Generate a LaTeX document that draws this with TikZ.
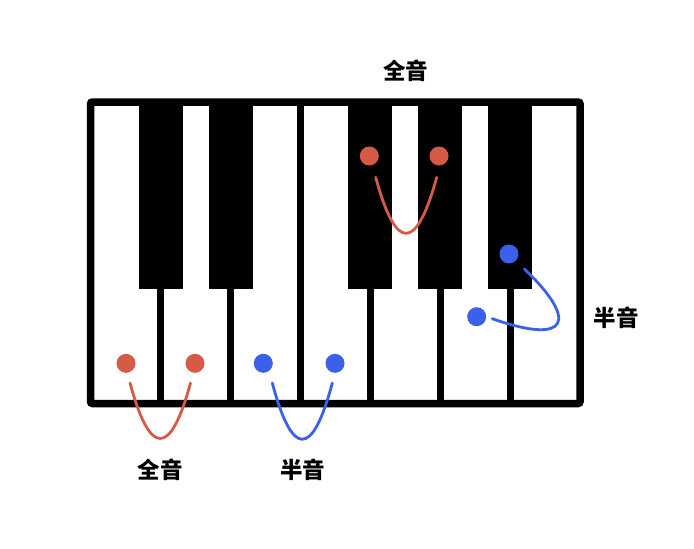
\documentclass[tikz,border=0pt]{standalone}
\usepackage{fontspec}
\newfontfamily\cjk{Noto Sans CJK SC}
\definecolor{notered}{RGB}{214,90,72}
\definecolor{noteblue}{RGB}{59,97,235}
\begin{document}
\begin{tikzpicture}[x=1pt,y=-1pt,
  dot/.style={circle,inner sep=0pt,minimum size=19pt,fill=#1},
  arc/.style={draw=#1,line width=2.8pt,line cap=round},
  divider/.style={line width=7pt},
  blackkey/.style={fill=black,draw=none},
  lbl/.style={font=\cjk\bfseries\fontsize{22.5}{25}\selectfont,inner sep=0pt}]
\useasboundingbox (0,0) rectangle (694,549);
% keyboard body
\fill[white] (90.5,102) rectangle (580,403.5);
\foreach \x in {160.5,230.5,300.5,370,440,510}
  \draw[divider] (\x,102) -- (\x,403.5);
\foreach \x in {160.5,230.5,370,440,510}
  \fill[blackkey] (\x-22,102) rectangle (\x+22,289);
\draw[line width=7.5pt,rounded corners=2pt] (90.5,102) rectangle (580,403.5);
% dots
\node[dot=notered] (r1) at (126,363.3) {};
\node[dot=notered] (r2) at (195,363.3) {};
\node[dot=noteblue] (b1) at (263.3,363.3) {};
\node[dot=noteblue] (b2) at (335,363.3) {};
\node[dot=notered] (r3) at (369.3,156) {};
\node[dot=notered] (r4) at (439,156) {};
\node[dot=noteblue] (b3) at (509,254) {};
\node[dot=noteblue] (b4) at (476.7,316.7) {};
% curve end points
\coordinate (r1e) at (130,383);
\coordinate (r2e) at (190.5,383);
\coordinate (b1e) at (272.3,383);
\coordinate (b2e) at (332.3,383);
\coordinate (r3e) at (375.7,177.3);
\coordinate (r4e) at (436.7,177.3);
\coordinate (b3e) at (524.3,269);
\coordinate (b4e) at (492.3,318.7);
% curves
\draw[arc=notered] (r1e) .. controls (150,457) and (170.5,457) .. (r2e);
\draw[arc=noteblue] (b1e) .. controls (292.3,458) and (312.3,458) .. (b2e);
\draw[arc=notered] (r3e) .. controls (395.9,252) and (416.2,252) .. (r4e);
\draw[arc=noteblue] (b3e) .. controls (578,320) and (570,346) .. (b4e);
% labels
\node[lbl] (l1) at (160,469.7) {全音};
\node[lbl] (l2) at (302.5,469.7) {半音};
\node[lbl] (l3) at (405.5,71) {全音};
\node[lbl] (l4) at (616,318) {半音};
\end{tikzpicture}
\end{document}
